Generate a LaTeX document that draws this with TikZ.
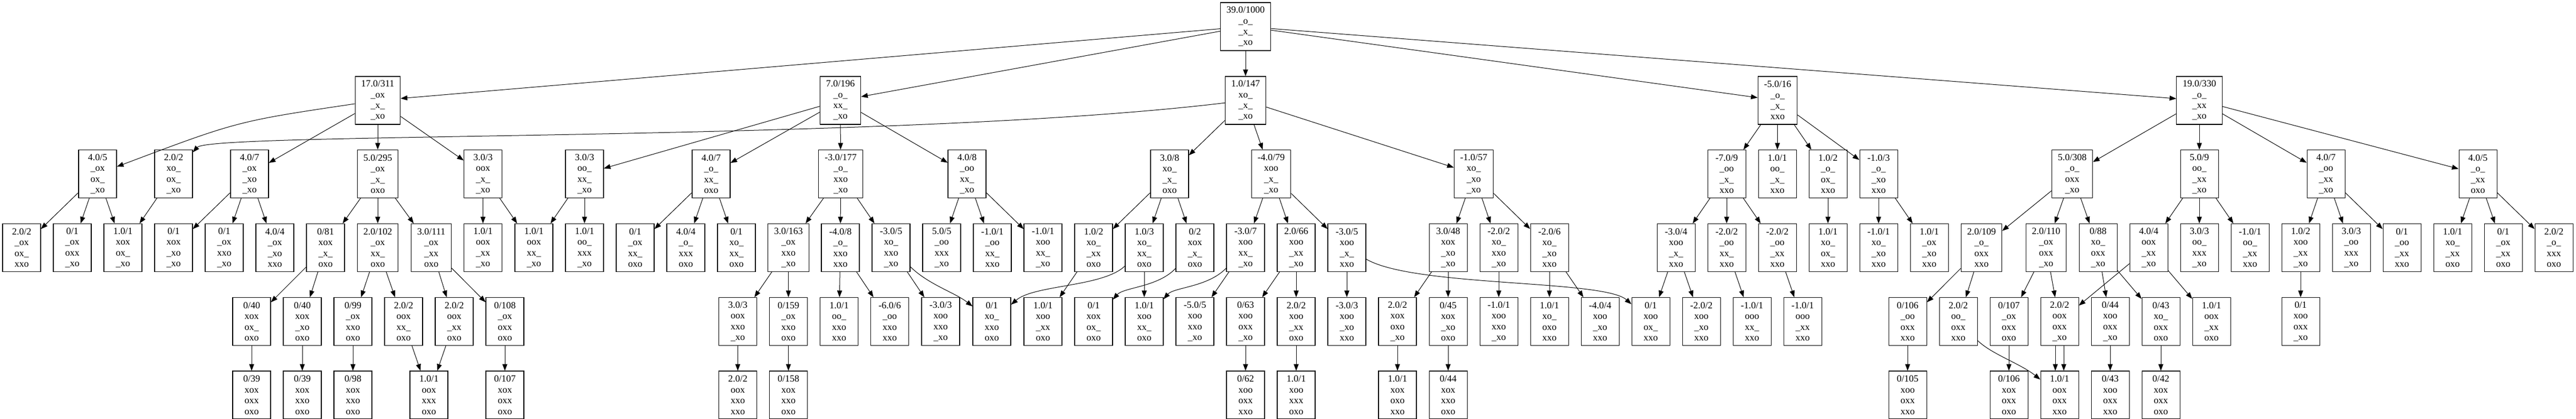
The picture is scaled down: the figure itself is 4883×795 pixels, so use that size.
\documentclass[tikz,border=0pt]{standalone}
\usepackage{fontspec}
\setmainfont{Liberation Serif}
\usetikzlibrary{arrows.meta}
\newcommand{\board}[4]{#1\\#2\\#3\\#4}
\tikzset{
  gamebox/.style={draw, line width=0.8pt, align=center, minimum width=54pt,
    minimum height=68.25pt, inner xsep=8.6pt, inner ysep=0pt,
    font=\fontsize{13.5}{15.3}\selectfont},
  link/.style={line width=0.75pt, -{Triangle[length=9.5pt,width=7pt]}}
}
\begin{document}
\begin{tikzpicture}[x=0.75pt,y=-0.75pt]
  \useasboundingbox (0,0) rectangle (4883,795);
  \begin{scope}[every node/.style={gamebox}]
  \node (A0)  at (2361  ,50.5)  {\board{39.0/1000}{\_o\_}{\_x\_}{\_xo}};
  \node (A1)  at (716   ,190.5) {\board{17.0/311}{\_ox}{\_x\_}{\_xo}};
  \node (A2)  at (1593  ,190.5) {\board{7.0/196}{\_o\_}{xx\_}{\_xo}};
  \node (A3)  at (2361  ,190.5) {\board{1.0/147}{xo\_}{\_x\_}{\_xo}};
  \node (A4)  at (3369.5,190.5) {\board{-5.0/16}{\_o\_}{\_x\_}{xxo}};
  \node (A5)  at (4169  ,190.5) {\board{19.0/330}{\_o\_}{\_xx}{\_xo}};
  \node (B1)  at (185   ,330)   {\board{4.0/5}{\_ox}{ox\_}{\_xo}};
  \node (B2)  at (329   ,330)   {\board{2.0/2}{xo\_}{ox\_}{\_xo}};
  \node (B3)  at (473   ,330)   {\board{4.0/7}{\_ox}{\_xo}{\_xo}};
  \node (B4)  at (716   ,330)   {\board{5.0/295}{\_ox}{\_x\_}{oxo}};
  \node (B5)  at (915.5 ,330)   {\board{3.0/3}{oox}{\_x\_}{\_xo}};
  \node (B6)  at (1108  ,330)   {\board{3.0/3}{oo\_}{xx\_}{\_xo}};
  \node (B7)  at (1348  ,330)   {\board{4.0/7}{\_o\_}{xx\_}{oxo}};
  \node (B8)  at (1593.5,330)   {\board{-3.0/177}{\_o\_}{xxo}{\_xo}};
  \node (B9)  at (1833  ,330)   {\board{4.0/8}{\_oo}{xx\_}{\_xo}};
  \node (B10) at (2217  ,330)   {\board{3.0/8}{xo\_}{\_x\_}{oxo}};
  \node (B11) at (2409.5,330)   {\board{-4.0/79}{xoo}{\_x\_}{\_xo}};
  \node (B12) at (2793.5,330)   {\board{-1.0/57}{xo\_}{\_xo}{\_xo}};
  \node (B13) at (3273  ,330)   {\board{-7.0/9}{\_oo}{\_x\_}{xxo}};
  \node (B14) at (3369  ,330)   {\board{1.0/1}{oo\_}{\_x\_}{xxo}};
  \node (B15) at (3465  ,330)   {\board{1.0/2}{\_o\_}{ox\_}{xxo}};
  \node (B16) at (3561  ,330)   {\board{-1.0/3}{\_o\_}{\_xo}{xxo}};
  \node (B17) at (3928  ,330)   {\board{5.0/308}{\_o\_}{oxx}{\_xo}};
  \node (B18) at (4169  ,330)   {\board{5.0/9}{oo\_}{\_xx}{\_xo}};
  \node (B19) at (4409  ,330)   {\board{4.0/7}{\_oo}{\_xx}{\_xo}};
  \node (B20) at (4697  ,330)   {\board{4.0/5}{\_o\_}{\_xx}{oxo}};
  \node (C1)  at (41    ,470)   {\board{2.0/2}{\_ox}{ox\_}{xxo}};
  \node (C2)  at (137   ,470)   {\board{0/1}{\_ox}{oxx}{\_xo}};
  \node (C3)  at (233   ,470)   {\board{1.0/1}{xox}{ox\_}{\_xo}};
  \node (C4)  at (329   ,470)   {\board{0/1}{xox}{\_xo}{\_xo}};
  \node (C5)  at (425   ,470)   {\board{0/1}{\_ox}{xxo}{\_xo}};
  \node (C6)  at (521   ,470)   {\board{4.0/4}{\_ox}{\_xo}{xxo}};
  \node (C7)  at (617   ,470)   {\board{0/81}{xox}{\_x\_}{oxo}};
  \node (C8)  at (716   ,470)   {\board{2.0/102}{\_ox}{xx\_}{oxo}};
  \node (C9)  at (817.5 ,470)   {\board{3.0/111}{\_ox}{\_xx}{oxo}};
  \node (C10) at (915.5 ,470)   {\board{1.0/1}{oox}{\_xx}{\_xo}};
  \node (C11) at (1012  ,470)   {\board{1.0/1}{oox}{xx\_}{\_xo}};
  \node (C12) at (1108  ,470)   {\board{1.0/1}{oo\_}{xxx}{\_xo}};
  \node (C13) at (1204  ,470)   {\board{0/1}{\_ox}{xx\_}{oxo}};
  \node (C14) at (1300  ,470)   {\board{4.0/4}{\_o\_}{xxx}{oxo}};
  \node (C15) at (1396  ,470)   {\board{0/1}{xo\_}{xx\_}{oxo}};
  \node (C16) at (1494.5,470)   {\board{3.0/163}{\_ox}{xxo}{\_xo}};
  \node (C17) at (1593  ,470)   {\board{-4.0/8}{\_o\_}{xxo}{xxo}};
  \node (C18) at (1689  ,470)   {\board{-3.0/5}{xo\_}{xxo}{\_xo}};
  \node (C19) at (1785  ,470)   {\board{5.0/5}{\_oo}{xxx}{\_xo}};
  \node (C20) at (1881  ,470)   {\board{-1.0/1}{\_oo}{xx\_}{xxo}};
  \node (C21) at (1977  ,470)   {\board{-1.0/1}{xoo}{xx\_}{\_xo}};
  \node (C22) at (2073  ,470)   {\board{1.0/2}{xo\_}{\_xx}{oxo}};
  \node (C23) at (2169  ,470)   {\board{1.0/3}{xo\_}{xx\_}{oxo}};
  \node (C24) at (2265  ,470)   {\board{0/2}{xox}{\_x\_}{oxo}};
  \node (C25) at (2361  ,470)   {\board{-3.0/7}{xoo}{xx\_}{\_xo}};
  \node (C26) at (2457  ,470)   {\board{2.0/66}{xoo}{\_xx}{\_xo}};
  \node (C27) at (2553  ,470)   {\board{-3.0/5}{xoo}{\_x\_}{xxo}};
  \node (C28) at (2745  ,470)   {\board{3.0/48}{xox}{\_xo}{\_xo}};
  \node (C29) at (2841  ,470)   {\board{-2.0/2}{xo\_}{xxo}{\_xo}};
  \node (C30) at (2937  ,470)   {\board{-2.0/6}{xo\_}{\_xo}{xxo}};
  \node (C31) at (3177  ,470)   {\board{-3.0/4}{xoo}{\_x\_}{xxo}};
  \node (C32) at (3273  ,470)   {\board{-2.0/2}{\_oo}{xx\_}{xxo}};
  \node (C33) at (3369  ,470)   {\board{-2.0/2}{\_oo}{\_xx}{xxo}};
  \node (C34) at (3465  ,470)   {\board{1.0/1}{xo\_}{ox\_}{xxo}};
  \node (C35) at (3561  ,470)   {\board{-1.0/1}{xo\_}{\_xo}{xxo}};
  \node (C36) at (3657  ,470)   {\board{1.0/1}{\_ox}{\_xo}{xxo}};
  \node (C37) at (3756  ,470)   {\board{2.0/109}{\_o\_}{oxx}{xxo}};
  \node (C38) at (3878.5,470)   {\board{2.0/110}{\_ox}{oxx}{\_xo}};
  \node (C39) at (3977  ,470)   {\board{0/88}{xo\_}{oxx}{\_xo}};
  \node (C40) at (4073  ,470)   {\board{4.0/4}{oox}{\_xx}{\_xo}};
  \node (C41) at (4169  ,470)   {\board{3.0/3}{oo\_}{xxx}{\_xo}};
  \node (C42) at (4265  ,470)   {\board{-1.0/1}{oo\_}{\_xx}{xxo}};
  \node (C43) at (4361  ,470)   {\board{1.0/2}{xoo}{\_xx}{\_xo}};
  \node (C44) at (4457  ,470)   {\board{3.0/3}{\_oo}{xxx}{\_xo}};
  \node (C45) at (4553  ,470)   {\board{0/1}{\_oo}{\_xx}{xxo}};
  \node (C46) at (4649  ,470)   {\board{1.0/1}{xo\_}{\_xx}{oxo}};
  \node (C47) at (4745  ,470)   {\board{0/1}{\_ox}{\_xx}{oxo}};
  \node (C48) at (4841  ,470)   {\board{2.0/2}{\_o\_}{xxx}{oxo}};
  \node (D1)  at (477   ,610)   {\board{0/40}{xox}{ox\_}{oxo}};
  \node (D2)  at (573   ,610)   {\board{0/40}{xox}{\_xo}{oxo}};
  \node (D3)  at (669   ,610)   {\board{0/99}{\_ox}{xxo}{oxo}};
  \node (D4)  at (765   ,610)   {\board{2.0/2}{oox}{xx\_}{oxo}};
  \node (D5)  at (861   ,610)   {\board{2.0/2}{oox}{\_xx}{oxo}};
  \node (D6)  at (957   ,610)   {\board{0/108}{\_ox}{oxx}{oxo}};
  \node (D7)  at (1398.5,610)   {\board{3.0/3}{oox}{xxo}{\_xo}};
  \node (D8)  at (1494.5,610)   {\board{0/159}{\_ox}{xxo}{oxo}};
  \node (D9)  at (1590.5,610)   {\board{1.0/1}{oo\_}{xxo}{xxo}};
  \node (D10) at (1686.5,610)   {\board{-6.0/6}{\_oo}{xxo}{xxo}};
  \node (D11) at (1783  ,610)   {\board{-3.0/3}{xoo}{xxo}{\_xo}};
  \node (D12) at (1880  ,610)   {\board{0/1}{xo\_}{xxo}{oxo}};
  \node (D13) at (1977  ,610)   {\board{1.0/1}{xoo}{\_xx}{oxo}};
  \node (D14) at (2073  ,610)   {\board{0/1}{xox}{ox\_}{oxo}};
  \node (D15) at (2169  ,610)   {\board{1.0/1}{xoo}{xx\_}{oxo}};
  \node (D16) at (2265  ,610)   {\board{-5.0/5}{xoo}{xxo}{\_xo}};
  \node (D17) at (2361  ,610)   {\board{0/63}{xoo}{oxx}{\_xo}};
  \node (D18) at (2457  ,610)   {\board{2.0/2}{xoo}{\_xx}{oxo}};
  \node (D19) at (2553  ,610)   {\board{-3.0/3}{xoo}{\_xo}{xxo}};
  \node (D20) at (2649  ,610)   {\board{2.0/2}{xox}{oxo}{\_xo}};
  \node (D21) at (2745  ,610)   {\board{0/45}{xox}{\_xo}{oxo}};
  \node (D22) at (2841  ,610)   {\board{-1.0/1}{xoo}{xxo}{\_xo}};
  \node (D23) at (2937  ,610)   {\board{1.0/1}{xo\_}{oxo}{xxo}};
  \node (D24) at (3033  ,610)   {\board{-4.0/4}{xoo}{\_xo}{xxo}};
  \node (D25) at (3129  ,610)   {\board{0/1}{xoo}{ox\_}{xxo}};
  \node (D26) at (3225  ,610)   {\board{-2.0/2}{xoo}{\_xo}{xxo}};
  \node (D27) at (3321  ,610)   {\board{-1.0/1}{ooo}{xx\_}{xxo}};
  \node (D28) at (3417  ,610)   {\board{-1.0/1}{ooo}{\_xx}{xxo}};
  \node (D29) at (3616  ,610)   {\board{0/106}{\_oo}{oxx}{xxo}};
  \node (D30) at (3712  ,610)   {\board{2.0/2}{oo\_}{oxx}{xxo}};
  \node (D31) at (3808  ,610)   {\board{0/107}{\_ox}{oxx}{oxo}};
  \node (D32) at (3904  ,610)   {\board{2.0/2}{oox}{oxx}{\_xo}};
  \node (D33) at (4000  ,610)   {\board{0/44}{xoo}{oxx}{\_xo}};
  \node (D34) at (4096  ,610)   {\board{0/43}{xo\_}{oxx}{oxo}};
  \node (D35) at (4192  ,610)   {\board{1.0/1}{oox}{\_xx}{oxo}};
  \node (D36) at (4361  ,610)   {\board{0/1}{xoo}{oxx}{\_xo}};
  \node (E1)  at (477   ,749.5) {\board{0/39}{xox}{oxx}{oxo}};
  \node (E2)  at (573   ,749.5) {\board{0/39}{xox}{xxo}{oxo}};
  \node (E3)  at (669   ,749.5) {\board{0/98}{xox}{xxo}{oxo}};
  \node (E4)  at (813   ,749.5) {\board{1.0/1}{oox}{xxx}{oxo}};
  \node (E5)  at (957   ,749.5) {\board{0/107}{xox}{oxx}{oxo}};
  \node (E6)  at (1398.5,749.5) {\board{2.0/2}{oox}{xxo}{xxo}};
  \node (E7)  at (1494.5,749.5) {\board{0/158}{xox}{xxo}{oxo}};
  \node (E8)  at (2361  ,749.5) {\board{0/62}{xoo}{oxx}{xxo}};
  \node (E9)  at (2457  ,749.5) {\board{1.0/1}{xoo}{xxx}{oxo}};
  \node (E10) at (2649  ,749.5) {\board{1.0/1}{xox}{oxo}{xxo}};
  \node (E11) at (2745  ,749.5) {\board{0/44}{xox}{xxo}{oxo}};
  \node (E12) at (3616  ,749.5) {\board{0/105}{xoo}{oxx}{xxo}};
  \node (E13) at (3808  ,749.5) {\board{0/106}{xox}{oxx}{oxo}};
  \node (E14) at (3904  ,749.5) {\board{1.0/1}{oox}{oxx}{xxo}};
  \node (E15) at (4000  ,749.5) {\board{0/43}{xoo}{oxx}{xxo}};
  \node (E16) at (4096  ,749.5) {\board{0/42}{xox}{oxx}{oxo}};
  \end{scope}
  \begin{scope}[every path/.style={link}]
  \draw (A0)  -- (A1);
  \draw (A0)  -- (A2);
  \draw (A0)  -- (A3);
  \draw (A0)  -- (A4);
  \draw (A0)  -- (A5);
  \draw (A1)  .. controls (450,230) .. (B1);
  \draw (A1)  -- (B3);
  \draw (A1)  -- (B4);
  \draw (A1)  -- (B5);
  \draw (A2)  -- (B6);
  \draw (A2)  -- (B7);
  \draw (A2)  -- (B8);
  \draw (A2)  -- (B9);
  \draw (A3)  .. controls (1700,270) and (400,250) .. (B2);
  \draw (A3)  -- (B10);
  \draw (A3)  -- (B11);
  \draw (A3)  -- (B12);
  \draw (A4)  -- (B13);
  \draw (A4)  -- (B14);
  \draw (A4)  -- (B15);
  \draw (A4)  -- (B16);
  \draw (A5)  -- (B17);
  \draw (A5)  -- (B18);
  \draw (A5)  -- (B19);
  \draw (A5)  -- (B20);
  \draw (B1)  -- (C1);
  \draw (B1)  -- (C2);
  \draw (B1)  -- (C3);
  \draw (B2)  -- (C3);
  \draw (B3)  -- (C4);
  \draw (B3)  -- (C5);
  \draw (B3)  -- (C6);
  \draw (B4)  -- (C7);
  \draw (B4)  -- (C8);
  \draw (B4)  -- (C9);
  \draw (B5)  -- (C10);
  \draw (B5)  -- (C11);
  \draw (B6)  -- (C11);
  \draw (B6)  -- (C12);
  \draw (B7)  -- (C13);
  \draw (B7)  -- (C14);
  \draw (B7)  -- (C15);
  \draw (B8)  -- (C16);
  \draw (B8)  -- (C17);
  \draw (B8)  -- (C18);
  \draw (B9)  -- (C19);
  \draw (B9)  -- (C20);
  \draw (B9)  -- (C21);
  \draw (B10) -- (C22);
  \draw (B10) -- (C23);
  \draw (B10) -- (C24);
  \draw (B11) -- (C25);
  \draw (B11) -- (C26);
  \draw (B11) -- (C27);
  \draw (B12) -- (C28);
  \draw (B12) -- (C29);
  \draw (B12) -- (C30);
  \draw (B13) -- (C31);
  \draw (B13) -- (C32);
  \draw (B13) -- (C33);
  \draw (B15) -- (C34);
  \draw (B16) -- (C35);
  \draw (B16) -- (C36);
  \draw (B17) -- (C37);
  \draw (B17) -- (C38);
  \draw (B17) -- (C39);
  \draw (B18) -- (C40);
  \draw (B18) -- (C41);
  \draw (B18) -- (C42);
  \draw (B19) -- (C43);
  \draw (B19) -- (C44);
  \draw (B19) -- (C45);
  \draw (B20) -- (C46);
  \draw (B20) -- (C47);
  \draw (B20) -- (C48);
  \draw (C7)  -- (D1);
  \draw (C7)  -- (D2);
  \draw (C8)  -- (D3);
  \draw (C8)  -- (D4);
  \draw (C9)  -- (D5);
  \draw (C9)  -- (D6);
  \draw (C16) -- (D7);
  \draw (C16) -- (D8);
  \draw (C17) -- (D9);
  \draw (C17) -- (D10);
  \draw (C18) -- (D11);
  \draw (C18) .. controls (1760,540) and (1810,555) .. (D12);
  \draw (C22) -- (D13);
  \draw (C23) .. controls (2090,545) and (1960,540) .. (D12);
  \draw (C23) -- (D15);
  \draw (C24) .. controls (2195,545) and (2130,545) .. (D14);
  \draw (C25) .. controls (2290,545) and (2225,545) .. (D15);
  \draw (C25) -- (D16);
  \draw (C26) -- (D17);
  \draw (C26) -- (D18);
  \draw (C27) -- (D19);
  \draw (C27) .. controls (2680,545) and (3040,530) .. (D25);
  \draw (C28) -- (D20);
  \draw (C28) -- (D21);
  \draw (C29) -- (D22);
  \draw (C30) -- (D23);
  \draw (C30) -- (D24);
  \draw (C31) -- (D25);
  \draw (C31) -- (D26);
  \draw (C32) -- (D27);
  \draw (C33) -- (D28);
  \draw (C37) -- (D29);
  \draw (C37) -- (D30);
  \draw (C38) -- (D31);
  \draw (C38) -- (D32);
  \draw (C39) -- (D33);
  \draw (C39) -- (D34);
  \draw (C40) -- (D32);
  \draw (C40) -- (D35);
  \draw (C43) -- (D36);
  \draw (D1)  -- (E1);
  \draw (D2)  -- (E2);
  \draw (D3)  -- (E3);
  \draw (D4)  -- (E4);
  \draw (D5)  -- (E4);
  \draw (D6)  -- (E5);
  \draw (D7)  -- (E6);
  \draw (D8)  -- (E7);
  \draw (D17) -- (E8);
  \draw (D18) -- (E9);
  \draw (D20) -- (E10);
  \draw (D21) -- (E11);
  \draw (D29) -- (E12);
  \draw (D30) .. controls (3775,672) and (3830,690) .. (E14);
  \draw (D31) -- (E13);
  \draw ([xshift=-6pt]D32.south) -- ([xshift=-6pt]E14.north);
  \draw ([xshift=6pt]D32.south)  -- ([xshift=6pt]E14.north);
  \draw (D33) -- (E15);
  \draw (D34) -- (E16);
  \end{scope}
\end{tikzpicture}
\end{document}
